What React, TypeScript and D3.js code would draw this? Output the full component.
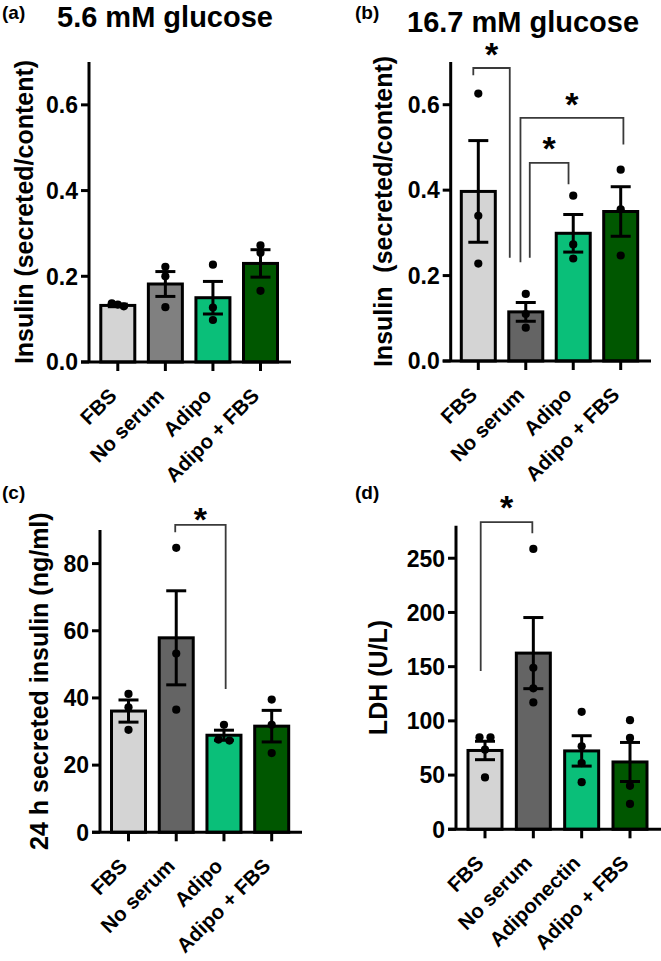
import React from "react";
import * as d3 from "d3";

// ---------- data ----------
const categoriesInsulin = ["FBS", "No serum", "Adipo", "Adipo + FBS"];
const categoriesLdh = ["FBS", "No serum", "Adiponectin", "Adipo + FBS"];

// (a) 5.6 mM glucose
const meansA = [0.132, 0.182, 0.15, 0.23];
const semA = [0.003, 0.029, 0.038, 0.032];
const pointsA = [
  [0.13, 0.134, 0.137],
  [0.222, 0.2, 0.128],
  [0.227, 0.127, 0.098],
  [0.272, 0.255, 0.166],
];
// (b) 16.7 mM glucose
const meansB = [0.397, 0.115, 0.299, 0.35];
const semB = [0.119, 0.022, 0.044, 0.058];
const pointsB = [
  [0.626, 0.34, 0.228],
  [0.157, 0.11, 0.078],
  [0.387, 0.273, 0.24],
  [0.448, 0.355, 0.247],
];
// (c) 24 h secreted insulin
const meansC = [36.1, 57.9, 28.9, 31.6];
const semC = [3.3, 14.0, 1.5, 4.7];
const pointsC = [
  [41.2, 37.2, 30.5],
  [84.7, 53.2, 36.5],
  [32.0, 27.6, 27.3],
  [39.5, 32.0, 23.6],
];
// (d) LDH
const meansD = [72.7, 162.5, 72.3, 62.1];
const semD = [8.5, 32.8, 14.0, 18.0];
const pointsD = [
  [84.8, 84.8, 73.4, 47.8],
  [258.6, 149, 130, 117],
  [108.3, 76.5, 61.1, 43.5],
  [100.6, 84.3, 40.1, 23.4],
];

const ticksInsulin = [0, 0.2, 0.4, 0.6];
const ticksC = [0, 20, 40, 60, 80];
const ticksD = [0, 50, 100, 150, 200, 250];

// significance brackets: category indices, bar-top value, drop ends
const bracketsB = [
  { from: 0, to: 1, top: 0.686, leftLow: 0.669, rightLow: 0.242 },
  { from: 1, to: 3, top: 0.569, leftLow: 0.231, rightLow: 0.507 },
  { from: 1, to: 2, top: 0.464, leftLow: 0.242, rightLow: 0.414 },
];
const bracketsC = [{ from: 1, to: 2, top: 91.5, leftLow: 89.3, rightLow: 42.7 }];
const bracketsD = [{ from: 0, to: 1, top: 283.3, leftLow: 145.9, rightLow: 273.1 }];

// ---------- styles / layout ----------
const FONT = "'Liberation Sans', Arial, Helvetica, sans-serif";
const colorsA = ["#d4d4d4", "#808080", "#0abf79", "#005700"];
const colorsBCD = ["#d4d4d4", "#646464", "#0abf79", "#005700"];

type Bracket = { from: number; to: number; top: number; leftLow: number; rightLow: number };
type Spec = {
  tag: string;
  tagX: number;
  tagY: number;
  title?: string;
  titleX?: number;
  titleY?: number;
  yLabel: string;
  yLabelX: number;
  categories: string[];
  means: number[];
  sem: number[];
  points: number[][];
  ticks: number[];
  fmt: (v: number) => string;
  colors: string[];
  axisX: number;
  yTop: number;
  yBase: number;
  yMax: number;
  xAxisEnd: number;
  centers: [number, number];
  brackets: Bracket[];
  bracketOffsets: [number, number][];
  starGap: number[];
};

const specs: Spec[] = [
  {
    tag: "(a)", tagX: 2, tagY: 19, title: "5.6 mM glucose", titleX: 57, titleY: 27,
    yLabel: "Insulin (secreted/content)", yLabelX: 33,
    categories: categoriesInsulin, means: meansA, sem: semA, points: pointsA,
    ticks: ticksInsulin, fmt: d3.format(".1f"), colors: colorsA,
    axisX: 89, yTop: 62, yBase: 362, yMax: 0.7, xAxisEnd: 291, centers: [117.8, 260.5],
    brackets: [], bracketOffsets: [], starGap: [],
  },
  {
    tag: "(b)", tagX: 355, tagY: 19, title: "16.7 mM glucose", titleX: 407, titleY: 32,
    yLabel: "Insulin  (secreted/content)", yLabelX: 392,
    categories: categoriesInsulin, means: meansB, sem: semB, points: pointsB,
    ticks: ticksInsulin, fmt: d3.format(".1f"), colors: colorsBCD,
    axisX: 450.7, yTop: 62, yBase: 361, yMax: 0.7, xAxisEnd: 651, centers: [478.3, 620.7],
    brackets: bracketsB, bracketOffsets: [[-5, -16], [-5.3, 2.7], [4, -4.7]], starGap: [21, 21, 22],
  },
  {
    tag: "(c)", tagX: 2, tagY: 499,
    yLabel: "24 h secreted insulin (ng/ml)", yLabelX: 48,
    categories: categoriesInsulin, means: meansC, sem: semC, points: pointsC,
    ticks: ticksC, fmt: d3.format("d"), colors: colorsBCD,
    axisX: 100, yTop: 530, yBase: 832.3, yMax: 90, xAxisEnd: 302, centers: [128.5, 271.7],
    brackets: bracketsC, bracketOffsets: [[-1, 1.7]], starGap: [12.5],
  },
  {
    tag: "(d)", tagX: 355, tagY: 499,
    yLabel: "LDH (U/L)", yLabelX: 386.5,
    categories: categoriesLdh, means: meansD, sem: semD, points: pointsD,
    ticks: ticksD, fmt: d3.format("d"), colors: colorsBCD,
    axisX: 456, yTop: 525.7, yBase: 829.3, yMax: 280, xAxisEnd: 661, centers: [485, 630],
    brackets: bracketsD, bracketOffsets: [[-4.3, -1]], starGap: [22],
  },
];

const BAR_W = 34;
const CAP_W = 20;
const DOT_R = 4.1;
const TICK = 8;

function jitter(ys: number[]): number[] {
  // spread overlapping points horizontally
  const order = ys.map((v, i) => i).sort((a, b) => ys[a] - ys[b]);
  const off = ys.map(() => 0);
  let group: number[] = [order[0]];
  const flush = () => {
    const n = group.length;
    if (n > 1) group.forEach((idx, k) => (off[idx] = (k - (n - 1) / 2) * (n > 2 ? 6 : 11)));
  };
  for (let k = 1; k < order.length; k++) {
    const idx = order[k];
    if (Math.abs(ys[idx] - ys[group[group.length - 1]]) < 7) group.push(idx);
    else {
      flush();
      group = [idx];
    }
  }
  flush();
  return off;
}

function Panel({ s }: { s: Spec }) {
  const y = d3.scaleLinear().domain([0, s.yMax]).range([s.yBase, s.yTop]);
  const x = d3.scalePoint<string>().domain(s.categories).range(s.centers);
  const xAxisStart = s.axisX - TICK;
  const yMid = (s.yTop + s.yBase) / 2;
  return (
    <g>
      <text x={s.tagX} y={s.tagY} fontSize={19} fontWeight="bold" fontFamily={FONT}>{s.tag}</text>
      {s.title && (
        <text x={s.titleX} y={s.titleY} fontSize={29} fontWeight="bold" fontFamily={FONT}>{s.title}</text>
      )}
      <text
        transform={`translate(${s.yLabelX},${yMid}) rotate(-90)`}
        textAnchor="middle"
        fontSize={25}
        fontWeight="bold"
        fontFamily={FONT}
        style={{ whiteSpace: "pre" }}
      >
        {s.yLabel}
      </text>
      {/* bars */}
      {s.categories.map((c, i) => {
        const cx = x(c)!;
        const top = y(s.means[i]);
        return (
          <rect key={"b" + c} x={cx - BAR_W / 2} y={top} width={BAR_W} height={s.yBase - top}
            fill={s.colors[i]} stroke="#000" strokeWidth={3} />
        );
      })}
      {/* dots */}
      {s.categories.map((c, i) => {
        const cx = x(c)!;
        const py = s.points[i].map((v) => y(v));
        const off = jitter(py);
        return py.map((v, k) => <circle key={c + "p" + k} cx={cx + off[k]} cy={v} r={DOT_R} fill="#000" />);
      })}
      {/* error bars */}
      {s.categories.map((c, i) => {
        const cx = x(c)!;
        const hi = y(s.means[i] + s.sem[i]);
        const lo = y(s.means[i] - s.sem[i]);
        return (
          <g key={"e" + c} stroke="#000" strokeWidth={3}>
            <line x1={cx} x2={cx} y1={hi} y2={lo} />
            <line x1={cx - CAP_W / 2} x2={cx + CAP_W / 2} y1={hi} y2={hi} />
            <line x1={cx - CAP_W / 2} x2={cx + CAP_W / 2} y1={lo} y2={lo} />
          </g>
        );
      })}
      {/* axes */}
      <line x1={s.axisX} x2={s.axisX} y1={s.yTop} y2={s.yBase} stroke="#000" strokeWidth={3} />
      <line x1={xAxisStart} x2={s.xAxisEnd} y1={s.yBase} y2={s.yBase} stroke="#000" strokeWidth={3} />
      {s.ticks.map((t) => (
        <g key={"t" + t}>
          <line x1={s.axisX - TICK} x2={s.axisX} y1={y(t)} y2={y(t)} stroke="#000" strokeWidth={3} />
          <text x={s.axisX - 11} y={y(t)} dy="0.36em" textAnchor="end" fontSize={23} fontWeight="bold" fontFamily={FONT}>
            {s.fmt(t)}
          </text>
        </g>
      ))}
      {s.categories.map((c) => {
        const cx = x(c)!;
        return (
          <g key={"x" + c}>
            <line x1={cx} x2={cx} y1={s.yBase} y2={s.yBase + TICK + 1} stroke="#000" strokeWidth={3} />
            <text transform={`translate(${cx},${s.yBase + 35}) rotate(-45)`} textAnchor="end"
              fontSize={20.5} fontWeight="bold" fontFamily={FONT}>{c}</text>
          </g>
        );
      })}
      {/* significance brackets */}
      {s.brackets.map((b, k) => {
        const x1 = x(s.categories[b.from])! + s.bracketOffsets[k][0];
        const x2 = x(s.categories[b.to])! + s.bracketOffsets[k][1];
        const yt = y(b.top);
        return (
          <g key={"br" + k}>
            <path d={`M${x1},${y(b.leftLow)}V${yt}H${x2}V${y(b.rightLow)}`} fill="none" stroke="#3a3a3a" strokeWidth={1.8} />
            <text x={(x1 + x2) / 2} y={yt - s.starGap[k] + 19} textAnchor="middle" fontSize={34} fontWeight="bold" fontFamily={FONT}>*</text>
          </g>
        );
      })}
    </g>
  );
}

export default function App() {
  return (
    <svg width={661} height={961} style={{ position: "absolute", left: 0, top: 0, background: "#fff" }}>
      <rect width={661} height={961} fill="#fff" />
      {specs.map((s) => (
        <Panel key={s.tag} s={s} />
      ))}
    </svg>
  );
}
